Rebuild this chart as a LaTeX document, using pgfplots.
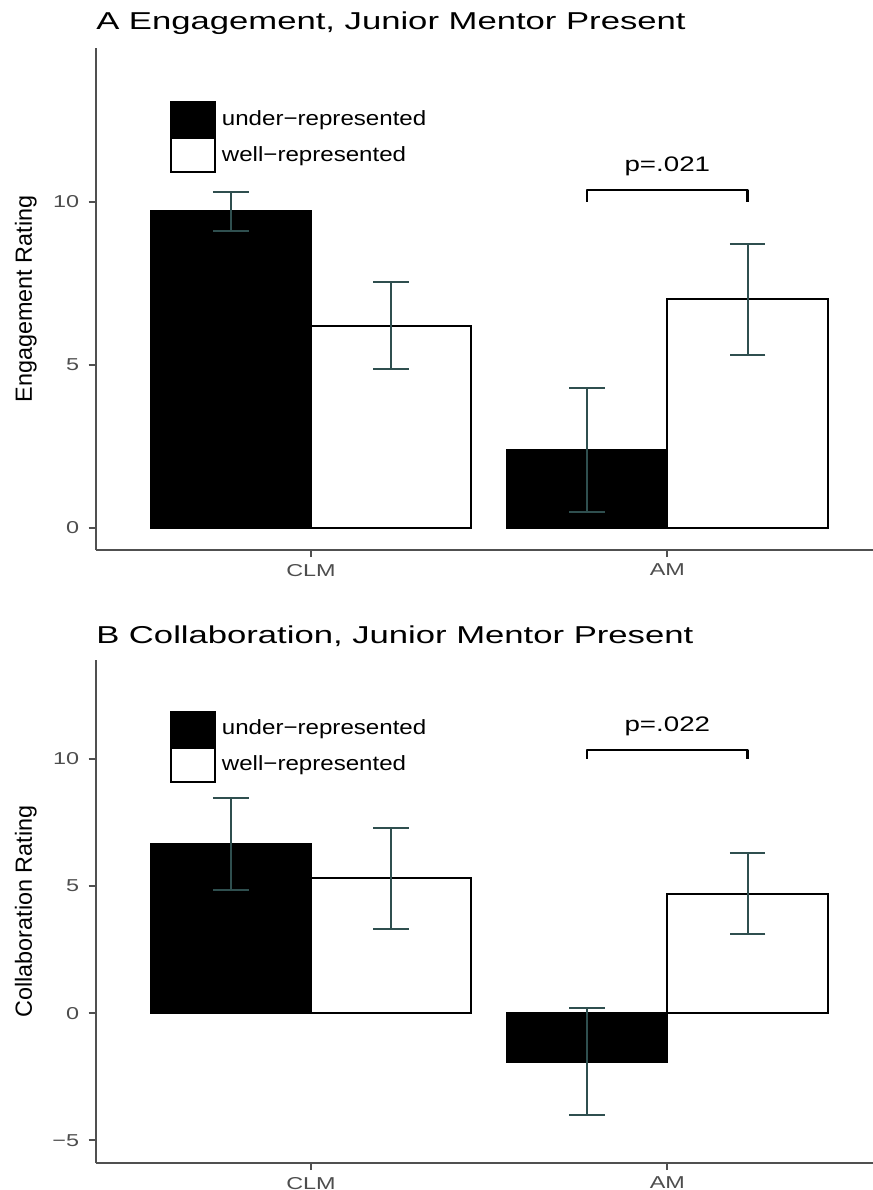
\documentclass[border=0pt]{standalone}
\usepackage{pgfplots}
\pgfplotsset{compat=1.18}
\usepackage{fontspec}
\setmainfont{Liberation Sans}
\definecolor{errc}{RGB}{47,79,79}
\definecolor{axc}{RGB}{80,80,80}
\definecolor{tickc}{RGB}{77,77,77}
\pgfplotsset{
 every axis title shift=0pt,
 myax/.style={
  scale only axis,
  width=388.65pt,
  xmin=0.396, xmax=2.577,
  axis x line*=bottom, axis y line*=left,
  axis line style={axc, line width=1pt},
  tick align=outside,
  major tick length=3.5pt,
  tick style={axc, line width=1pt},
  xtick={1,2}, xticklabels={CLM,AM},
  ticklabel style={font=\fontsize{8.6}{10}\selectfont, text=tickc, xscale=1.36},
  /pgf/number format/assume math mode=true,
  ylabel style={font=\fontsize{11.7}{14}\selectfont, at={(axis description cs:-0.082,0.5)}, anchor=base, inner sep=0pt},
  title style={anchor=base west, font=\fontsize{12.2}{14}\selectfont, xscale=1.42, inner sep=0pt},
  legend style={at={(axis description cs:0.095,0.895)}, anchor=north west, draw=none, fill=none,
     inner sep=0pt, row sep=0pt, column sep=3pt, font=\fontsize{10.3}{12}\selectfont,
     nodes={xscale=1.17, inner sep=0pt}},
  legend cell align=left,
  legend image code/.code={\draw[#1, line width=1pt] (0pt,-8.5pt) rectangle (22pt,8.5pt);},
 }
}
\begin{document}
\begin{tikzpicture}
\useasboundingbox (0,0) rectangle (436.5pt,-595pt);
% Panel A
\begin{axis}[myax, at={(47.85pt,-275pt)}, anchor=south west, height=251pt,
  ymin=-0.68, ymax=14.71, ytick={0,5,10},
  ylabel={Engagement Rating},
  title={A Engagement, Junior Mentor Present},
  title style={at={(axis description cs:0,1.0359)}}]
\addplot[ybar, bar width=0.45, bar shift=-0.225, fill=black, draw=black, line width=1pt]
  coordinates {(1,9.7) (2,2.4)};
\addlegendentry{under−represented}
\addplot[ybar, bar width=0.45, bar shift=0.225, fill=white, draw=black, line width=1pt]
  coordinates {(1,6.2) (2,7.0)};
\addlegendentry{well−represented}
\addplot[draw=none, mark=none, forget plot,
  error bars/.cd, y dir=both, y explicit,
  error bar style={draw=errc, solid, line width=1pt},
  error mark options={draw=errc, rotate=90, mark size=8.9pt, line width=1pt}]
  coordinates {(0.775,9.7) +- (0,0.6) (1.225,6.2) +- (0,1.33) (1.775,2.4) +- (0,1.9) (2.225,7.0) +- (0,1.7)};
\addplot[black, line width=1.2pt, line join=round, forget plot]
  coordinates {(1.775,10.0) (1.775,10.35) (2.225,10.35) (2.225,10.0)};
\node[font=\fontsize{10.5}{12}\selectfont, anchor=base, xscale=1.32, inner sep=0pt] at (axis cs:2,10.92) {p=.021};
\end{axis}
% Panel B
\begin{axis}[myax, at={(47.85pt,-581.5pt)}, anchor=south west, height=251.5pt,
  ymin=-5.89, ymax=13.89, ytick={-5,0,5,10}, yticklabels={−5,0,5,10},
  ylabel={Collaboration Rating},
  title={B Collaboration, Junior Mentor Present},
  title style={at={(axis description cs:0,1.0332)}},
  legend style={at={(axis description cs:0.095,0.9)}}]
\addplot[ybar, bar width=0.45, bar shift=-0.225, fill=black, draw=black, line width=1pt]
  coordinates {(1,6.65) (2,-1.9)};
\addlegendentry{under−represented}
\addplot[ybar, bar width=0.45, bar shift=0.225, fill=white, draw=black, line width=1pt]
  coordinates {(1,5.3) (2,4.7)};
\addlegendentry{well−represented}
\addplot[draw=none, mark=none, forget plot,
  error bars/.cd, y dir=both, y explicit,
  error bar style={draw=errc, solid, line width=1pt},
  error mark options={draw=errc, rotate=90, mark size=8.9pt, line width=1pt}]
  coordinates {(0.775,6.65) +- (0,1.8) (1.225,5.3) +- (0,2.0) (1.775,-1.9) +- (0,2.1) (2.225,4.7) +- (0,1.6)};
\addplot[black, line width=1.2pt, line join=round, forget plot]
  coordinates {(1.775,10.0) (1.775,10.35) (2.225,10.35) (2.225,10.0)};
\node[font=\fontsize{10.5}{12}\selectfont, anchor=base, xscale=1.32, inner sep=0pt] at (axis cs:2,11.07) {p=.022};
\end{axis}
\end{tikzpicture}
\end{document}
